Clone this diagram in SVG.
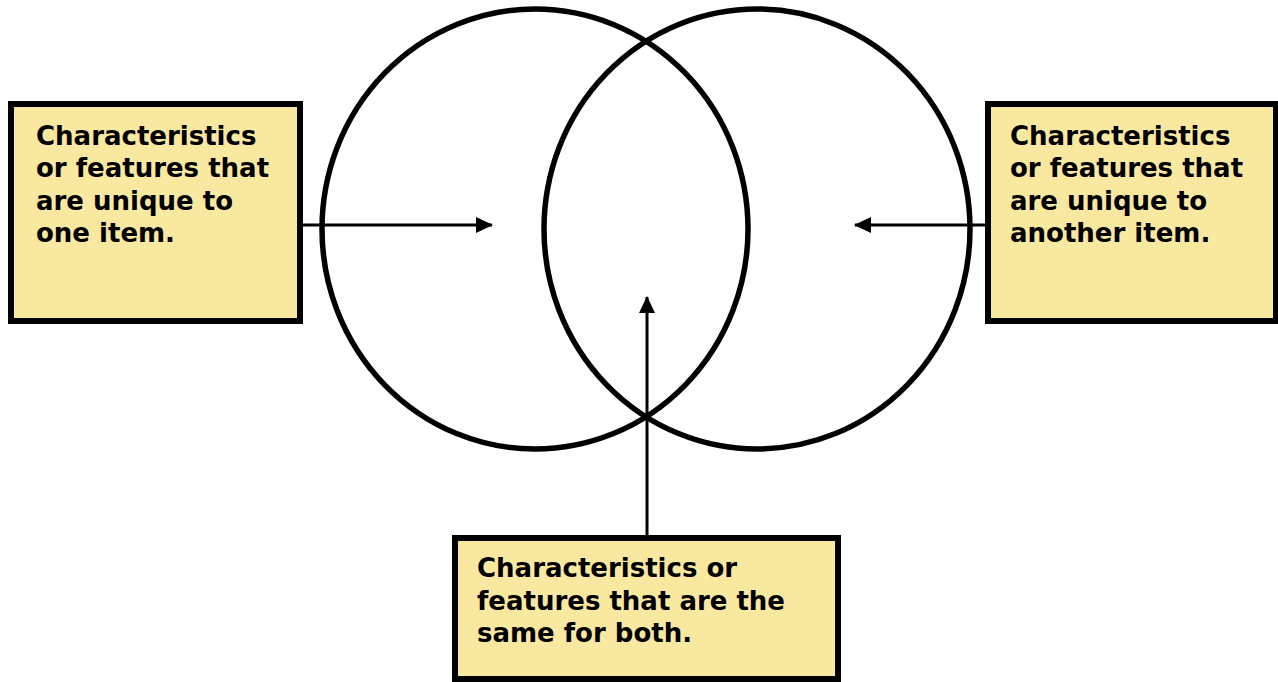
<svg xmlns="http://www.w3.org/2000/svg" width="1278" height="682" viewBox="0 0 1278 682">
<style>
.box{fill:#F9E8A0;stroke:#000;stroke-width:6}
.ring{fill:none;stroke:#000;stroke-width:5.5}
.conn{fill:none;stroke:#000;stroke-width:3}
text{font-family:"DejaVu Sans",Verdana,sans-serif;font-weight:bold;font-size:26px;fill:#000}
</style>
<defs>
<marker id="ah" markerWidth="17" markerHeight="16" refX="16" refY="8" orient="auto" markerUnits="userSpaceOnUse">
<path d="M0,0 L17,8 L0,16 Z" fill="#000"/>
</marker>
</defs>
<rect width="1278" height="682" fill="#fff"/>
<g id="circles">
<ellipse class="ring" cx="535" cy="229" rx="213" ry="220"/>
<ellipse class="ring" cx="757" cy="229" rx="213" ry="220"/>
</g>
<g id="connectors">
<line class="conn" x1="300" y1="225" x2="492" y2="225" marker-end="url(#ah)"/>
<line class="conn" x1="987" y1="225" x2="855" y2="225" marker-end="url(#ah)"/>
<line class="conn" x1="647" y1="537" x2="647" y2="297" marker-end="url(#ah)"/>
</g>
<g id="node-left">
<rect class="box" x="11" y="104" width="289" height="217"/>
<text x="36"><tspan x="36" y="145">Characteristics</tspan><tspan x="36" y="177">or features that</tspan><tspan x="36" y="210">are unique to</tspan><tspan x="36" y="242">one item.</tspan></text>
</g>
<g id="node-right">
<rect class="box" x="988" y="104" width="288" height="217"/>
<text x="1010"><tspan x="1010" y="145">Characteristics</tspan><tspan x="1010" y="177">or features that</tspan><tspan x="1010" y="210">are unique to</tspan><tspan x="1010" y="242">another item.</tspan></text>
</g>
<g id="node-bottom">
<rect class="box" x="455" y="538" width="383" height="141"/>
<text x="477"><tspan x="477" y="577">Characteristics or</tspan><tspan x="477" y="610">features that are the</tspan><tspan x="477" y="642">same for both.</tspan></text>
</g>
</svg>
